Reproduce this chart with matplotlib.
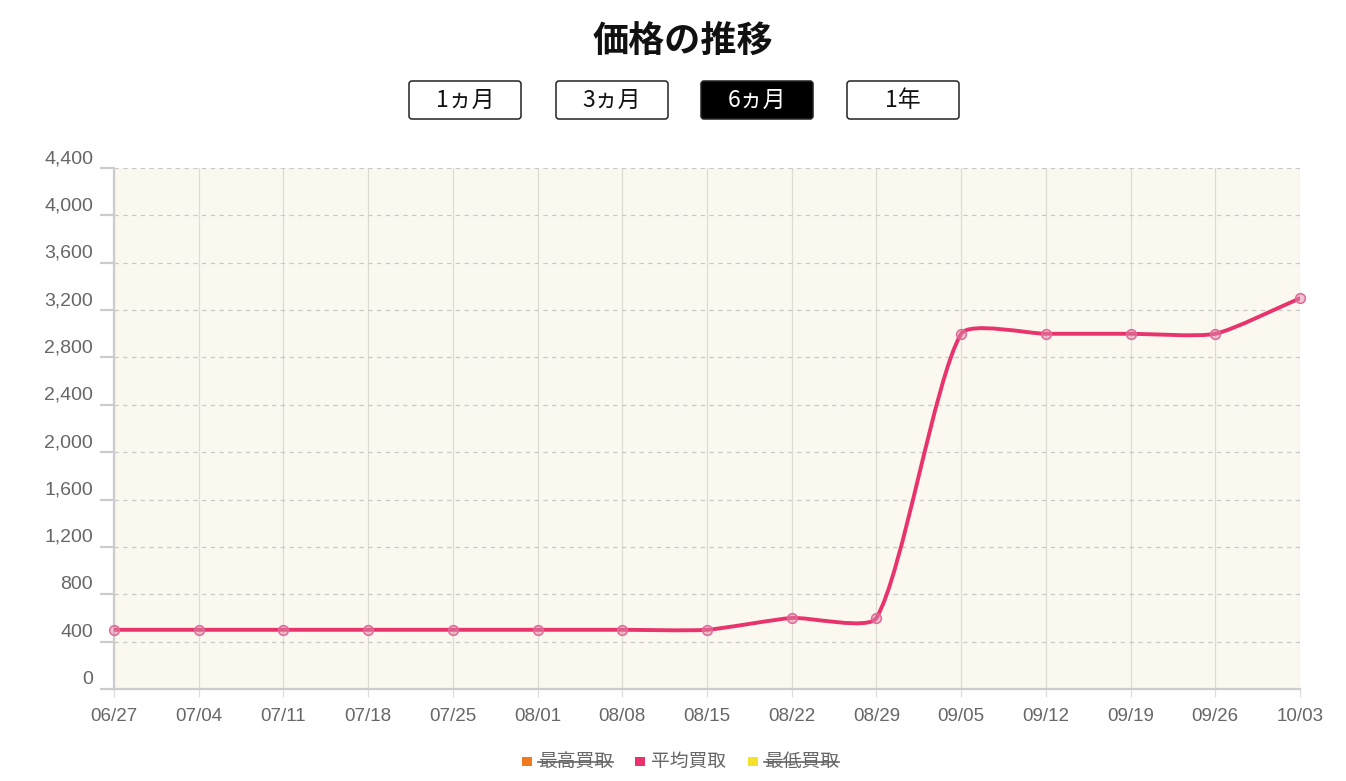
import matplotlib
matplotlib.use('Agg')
import matplotlib.pyplot as plt
from matplotlib.path import Path
from matplotlib.patches import PathPatch, FancyBboxPatch, Rectangle
from matplotlib.lines import Line2D
from matplotlib.transforms import ScaledTranslation
import numpy as np

# ---------------- data ----------------
dates = ['06/27', '07/04', '07/11', '07/18', '07/25', '08/01', '08/08', '08/15',
         '08/22', '08/29', '09/05', '09/12', '09/19', '09/26', '10/03']
avg_prices = [500, 500, 500, 500, 500, 500, 500, 500,
              600, 600, 3000, 3000, 3000, 3000, 3300]
y_ticks = [0, 400, 800, 1200, 1600, 2000, 2400, 2800, 3200, 3600, 4000, 4400]
buttons = ['1ヵ月', '3ヵ月', '6ヵ月', '1年']
active_button = '6ヵ月'
legend_labels = ['最高買取', '平均買取', '最低買取']
legend_hidden = [True, False, True]
title = '価格の推移'

# ---------------- style ----------------
W, H = 1346, 781
CJK = ['Noto Sans CJK JP', 'DejaVu Sans']
LAT = ['Liberation Sans', 'DejaVu Sans']
line_color = '#e8336d'
legend_colors = ['#ef7a1d', '#e8336d', '#f5e22c']
label_grey = '#666666'

fig = plt.figure(figsize=(W / 100, H / 100), dpi=100)
fig.patch.set_facecolor('white')

ax = fig.add_axes([114 / W, 1 - 689 / H, (1300 - 114) / W, (689 - 168) / H])
ax.set_facecolor('#fbf8f0')
x = np.arange(len(dates))
ax.set_xlim(0, len(dates) - 1)
ax.set_ylim(y_ticks[0], y_ticks[-1])

for s in ['top', 'right']:
    ax.spines[s].set_visible(False)
for s in ['left', 'bottom']:
    ax.spines[s].set_color('#cccccc')
    ax.spines[s].set_linewidth(1.6)

# grid
for xi in x:
    ax.axvline(xi, color='#dedbd2', lw=0.9, zorder=0.5)
for yt in y_ticks[1:]:
    ax.axhline(yt, color='#c9c9c9', lw=0.9, ls=(0, (3.5, 3.5)), zorder=0.6)

ax.set_yticks(y_ticks)
ax.set_yticklabels([f'{v:,}' for v in y_ticks], family=LAT)
ax.set_xticks(x)
ax.set_xticklabels(dates, family=LAT)
ax.tick_params(axis='y', length=10, width=1.6, color='#cccccc', pad=5,
               labelsize=14, labelcolor=label_grey)
ax.tick_params(axis='x', length=6, width=0.9, color='#dddddd', pad=8,
               labelsize=13.5, labelcolor=label_grey)
shift = ScaledTranslation(0, 0.115, fig.dpi_scale_trans)
for lab in ax.get_yticklabels():
    lab.set_transform(lab.get_transform() + shift)

# smooth line (tension spline, computed in pixel space)
tension = 0.2
P = ax.transData.transform(np.column_stack([x, avg_prices]).astype(float))
n = len(P)
cp_prev = np.zeros_like(P)
cp_next = np.zeros_like(P)
for i in range(n):
    prev = P[i - 1] if i > 0 else P[i]
    nxt = P[i + 1] if i < n - 1 else P[i]
    d01 = np.hypot(*(P[i] - prev))
    d12 = np.hypot(*(nxt - P[i]))
    tot = d01 + d12
    s01 = d01 / tot if tot else 0
    s12 = d12 / tot if tot else 0
    cp_prev[i] = P[i] - tension * s01 * (nxt - prev)
    cp_next[i] = P[i] + tension * s12 * (nxt - prev)
verts = [P[0]]
codes = [Path.MOVETO]
for i in range(n - 1):
    verts += [cp_next[i], cp_prev[i + 1], P[i + 1]]
    codes += [Path.CURVE4] * 3
inv = ax.transData.inverted()
verts = inv.transform(np.array(verts))
ax.add_patch(PathPatch(Path(verts, codes), fill=False, edgecolor=line_color,
                       lw=2.8, zorder=3, capstyle='round', joinstyle='round'))
ax.plot(x, avg_prices, 'o', ms=7, mfc=(0.85, 0.55, 0.65, 0.5),
        mec='#e3679a', mew=1.1, zorder=4, clip_on=False)

# ---------------- overlay (title, buttons, legend) ----------------
ov = fig.add_axes([0, 0, 1, 1])
ov.set_xlim(0, W)
ov.set_ylim(H, 0)
ov.axis('off')
ov.patch.set_visible(False)

ov.text(683, 42, title, family=CJK, fontsize=26, fontweight='bold',
        ha='center', va='center', color='#111111')

btn_x = [409, 556, 701, 847]
btn_w, btn_y, btn_h = 112, 81, 38
for bx, label in zip(btn_x, buttons):
    act = label == active_button
    ov.add_patch(FancyBboxPatch((bx, btn_y), btn_w, btn_h,
                                boxstyle='round,pad=0,rounding_size=3',
                                facecolor='black' if act else 'white',
                                edgecolor='#222222', lw=1.1))
    ov.text(bx + btn_w / 2, btn_y + btn_h / 2 + 0.5, label, family=CJK, fontsize=16.5,
            ha='center', va='center', color='white' if act else '#111111')

leg_sq_x = [522, 635, 748]
leg_y = 761
texts = []
for sx, lab, col, hid in zip(leg_sq_x, legend_labels, legend_colors, legend_hidden):
    ov.add_patch(Rectangle((sx, leg_y - 4.5), 9.5, 9, facecolor=col, edgecolor='none'))
    t = ov.text(sx + 16, leg_y, lab, family=CJK, fontsize=13.5, ha='left',
                va='center', color=label_grey)
    texts.append((t, hid))

fig.canvas.draw()
r = fig.canvas.get_renderer()
for t, hid in texts:
    if hid:
        bb = t.get_window_extent(r)
        ov.add_line(Line2D([bb.x0, bb.x1], [leg_y + 0.5, leg_y + 0.5],
                           color=label_grey, lw=1.2))

fig.savefig('out.png', dpi=100, facecolor='white')
